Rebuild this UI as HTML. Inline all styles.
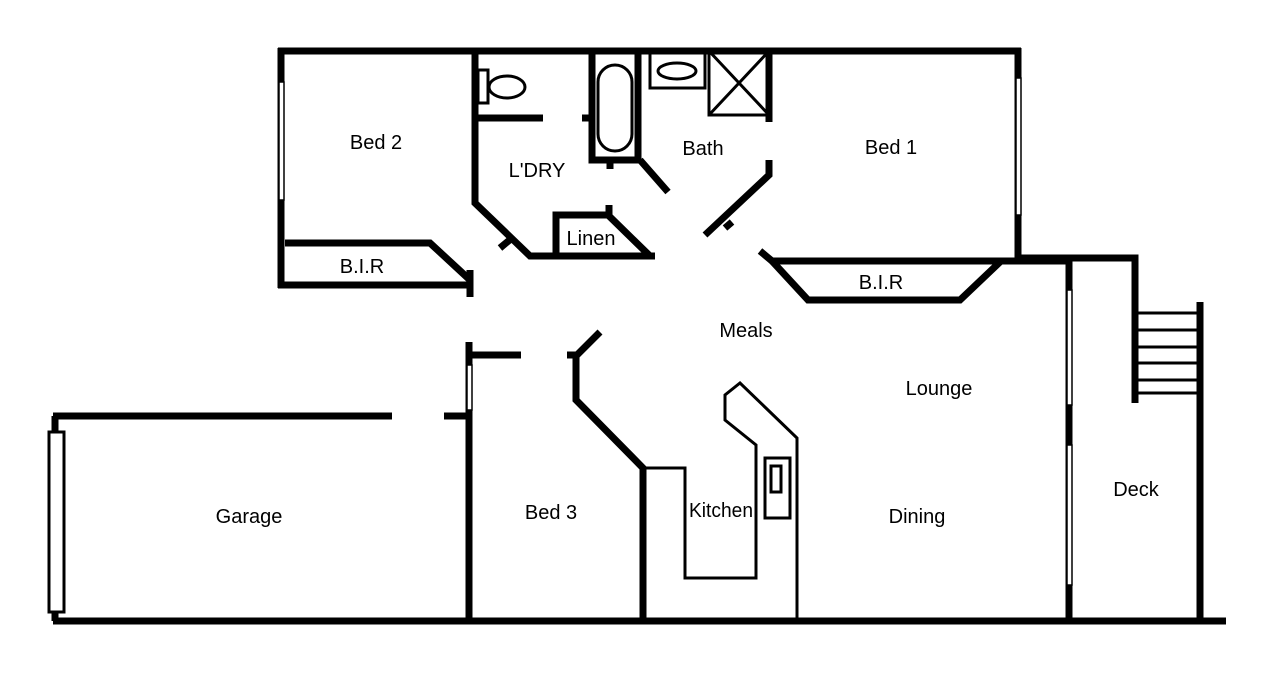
<!DOCTYPE html>
<html><head><meta charset="utf-8"><style>
html,body{margin:0;padding:0;background:#fff;width:1280px;height:675px;overflow:hidden}
text{font-family:"Liberation Sans Narrow","Liberation Sans",sans-serif;font-size:20px;fill:#000;text-anchor:middle}
</style></head><body>
<svg width="1280" height="675" viewBox="0 0 1280 675">
<g stroke="#000" stroke-width="7" fill="none" stroke-linecap="butt" stroke-linejoin="miter">
<path d="M278 51H1021"/>
<path d="M281 48V288"/>
<path d="M278 285H470"/>
<path d="M285 243H430L470 280"/>
<path d="M470 270V297"/>
<path d="M475 51V203L530 256H655"/>
<path d="M500 248L512 238"/>
<path d="M475 118H543"/>
<path d="M582 118H590"/>
<path d="M610 160V169"/>
<path d="M640 160L668 192"/>
<path d="M769 51V122"/>
<path d="M769 160V175L705 235"/>
<path d="M725 228L732 222"/>
<path d="M1018 48V258"/>
<path d="M556 256V215H608L650 256"/>
<path d="M609 205V215"/>
<path d="M760 251L772 261H1070"/>
<path d="M772 261L808 300H960L1000 262"/>
<path d="M1018 258H1135V403"/>
<path d="M1069 258V621"/>
<path d="M1200 302V621"/>
<path d="M53 621H1226"/>
<path d="M53 416H392"/>
<path d="M444 416H470"/>
<path d="M55 416V621"/>
<path d="M469 342V621"/>
<path d="M469 355H521"/>
<path d="M567 355H577L600 332"/>
<path d="M576 355V400L643 468V621"/>
<path d="M592 51V160H638V51"/>
</g>
<g stroke="#000" stroke-width="3" fill="none">
<rect x="598" y="65" width="34" height="86" rx="17"/>
<path d="M650 51V88H705V51"/>
<ellipse cx="677" cy="71" rx="19" ry="8"/>
<path d="M709 51V115H769M709 51L769 115M769 51L709 115"/>
<rect x="478" y="70" width="10" height="33"/>
<ellipse cx="507" cy="87" rx="18" ry="11"/>
<path d="M1135 313H1198M1135 330H1198M1135 347H1198M1135 363H1198M1135 380H1198M1135 393H1198"/>
<path d="M645 468H685V578H756V445L725 420V395L740 383L797 438V621"/>
<rect x="765" y="458" width="25" height="60"/>
<rect x="771" y="466" width="10" height="26"/>
</g>
<g fill="#fff" stroke="#000" stroke-width="1.5">
<rect x="279" y="82" width="5" height="118"/>
<rect x="1016" y="78" width="5" height="137"/>
<rect x="1067" y="290" width="5" height="115"/>
<rect x="1067" y="445" width="5" height="140"/>
<rect x="467" y="365" width="5" height="45"/>
<rect x="49" y="432" width="15" height="180" stroke-width="3"/>
</g>
<text x="376" y="149">Bed 2</text>
<text x="537" y="177">L'DRY</text>
<text x="703" y="155">Bath</text>
<text x="891" y="154">Bed 1</text>
<text x="591" y="245">Linen</text>
<text x="362" y="273">B.I.R</text>
<text x="881" y="289">B.I.R</text>
<text x="746" y="337">Meals</text>
<text x="939" y="395">Lounge</text>
<text x="249" y="523">Garage</text>
<text x="551" y="519">Bed 3</text>
<text x="721" y="517" textLength="64" lengthAdjust="spacingAndGlyphs">Kitchen</text>
<text x="917" y="523">Dining</text>
<text x="1136" y="496">Deck</text>
</svg>
</body></html>
